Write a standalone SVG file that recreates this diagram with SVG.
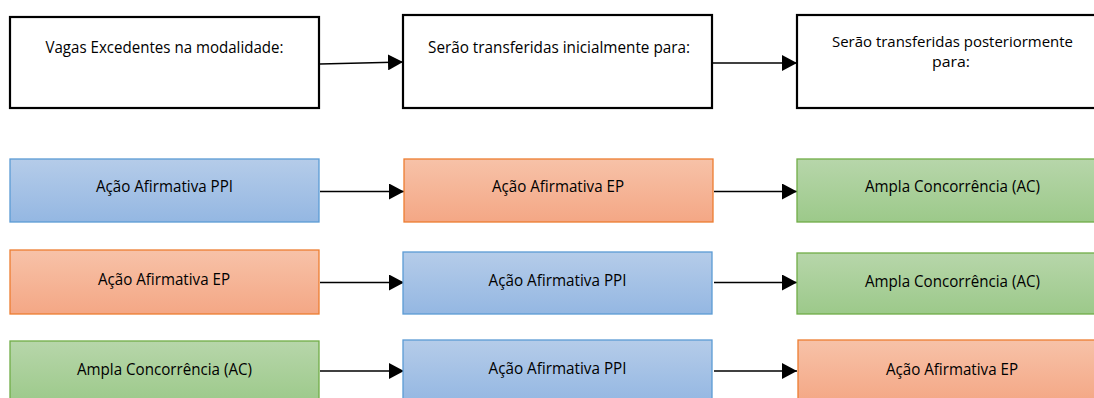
<svg xmlns="http://www.w3.org/2000/svg" width="1094" height="398" viewBox="0 0 1094 398">
<style>
text{font-family:"Open Sans","Liberation Sans",sans-serif;font-size:15.5px;fill:#000;text-anchor:middle}
.two{font-size:14.5px}
.hdr{fill:#fff;stroke:#000;stroke-width:2.2}
.blue{fill:url(#gB);stroke:#5b9bd5;stroke-width:1.3}
.orange{fill:url(#gO);stroke:#ed7d31;stroke-width:1.3}
.green{fill:url(#gG);stroke:#70ad47;stroke-width:1.3}
.con{stroke:#000;stroke-width:1.3;fill:none;marker-end:url(#ah)}
</style>
<defs>
<linearGradient id="gB" x1="0" y1="0" x2="0" y2="1"><stop offset="0" stop-color="#b5cce9"/><stop offset="1" stop-color="#94b7e2"/></linearGradient>
<linearGradient id="gO" x1="0" y1="0" x2="0" y2="1"><stop offset="0" stop-color="#f7c2a8"/><stop offset="1" stop-color="#f4a785"/></linearGradient>
<linearGradient id="gG" x1="0" y1="0" x2="0" y2="1"><stop offset="0" stop-color="#b7d6aa"/><stop offset="1" stop-color="#9cc98a"/></linearGradient>
<marker id="ah" markerWidth="15" markerHeight="16" refX="15" refY="8" orient="auto" markerUnits="userSpaceOnUse"><path d="M0,0 L15,8 L0,16 Z" fill="#000"/></marker>
</defs>
<g id="connectors">
<line class="con" x1="320" y1="64" x2="403" y2="62"/>
<line class="con" x1="713" y1="63" x2="797" y2="63"/>
<line class="con" x1="320" y1="191.5" x2="404" y2="191.5"/>
<line class="con" x1="714" y1="191.5" x2="797" y2="191.5"/>
<line class="con" x1="320" y1="282.5" x2="404" y2="282.5"/>
<line class="con" x1="714" y1="282.5" x2="797" y2="282.5"/>
<line class="con" x1="320" y1="371" x2="404" y2="371"/>
<line class="con" x1="714" y1="371" x2="797" y2="371"/>
</g>
<g id="h1"><rect class="hdr" x="10" y="17" width="309" height="91"/><text x="164.5" y="53" textLength="238" lengthAdjust="spacingAndGlyphs">Vagas Excedentes na modalidade:</text></g>
<g id="h2"><rect class="hdr" x="403" y="15" width="309" height="93"/><text x="559" y="53" textLength="262" lengthAdjust="spacingAndGlyphs">Serão transferidas inicialmente para:</text></g>
<g id="h3"><rect class="hdr" x="797" y="15" width="310" height="93"/><text class="two" x="952.5" y="47" textLength="241" lengthAdjust="spacingAndGlyphs">Serão transferidas posteriormente</text><text class="two" x="951" y="67" textLength="38" lengthAdjust="spacingAndGlyphs">para:</text></g>

<g id="r1c1"><rect class="blue" x="10" y="159" width="309" height="63"/><text x="164.5" y="192" textLength="137" lengthAdjust="spacingAndGlyphs">Ação Afirmativa PPI</text></g>
<g id="r1c2"><rect class="orange" x="404" y="159" width="309" height="63"/><text x="558" y="192" textLength="132" lengthAdjust="spacingAndGlyphs">Ação Afirmativa EP</text></g>
<g id="r1c3"><rect class="green" x="797" y="159" width="310" height="63"/><text x="952.5" y="192" textLength="175" lengthAdjust="spacingAndGlyphs">Ampla Concorrência (AC)</text></g>

<g id="r2c1"><rect class="orange" x="10" y="250" width="309" height="64"/><text x="164" y="285" textLength="132" lengthAdjust="spacingAndGlyphs">Ação Afirmativa EP</text></g>
<g id="r2c2"><rect class="blue" x="403" y="252" width="309" height="62"/><text x="557.5" y="286" textLength="138" lengthAdjust="spacingAndGlyphs">Ação Afirmativa PPI</text></g>
<g id="r2c3"><rect class="green" x="797" y="253" width="310" height="61"/><text x="952.5" y="287" textLength="175" lengthAdjust="spacingAndGlyphs">Ampla Concorrência (AC)</text></g>

<g id="r3c1"><rect class="green" x="10" y="341" width="309" height="63"/><text x="164.5" y="375" textLength="175" lengthAdjust="spacingAndGlyphs">Ampla Concorrência (AC)</text></g>
<g id="r3c2"><rect class="blue" x="403" y="340" width="309" height="63"/><text x="557.5" y="374" textLength="138" lengthAdjust="spacingAndGlyphs">Ação Afirmativa PPI</text></g>
<g id="r3c3"><rect class="orange" x="798" y="340" width="310" height="63"/><text x="952" y="375" textLength="132" lengthAdjust="spacingAndGlyphs">Ação Afirmativa EP</text></g>
</svg>
